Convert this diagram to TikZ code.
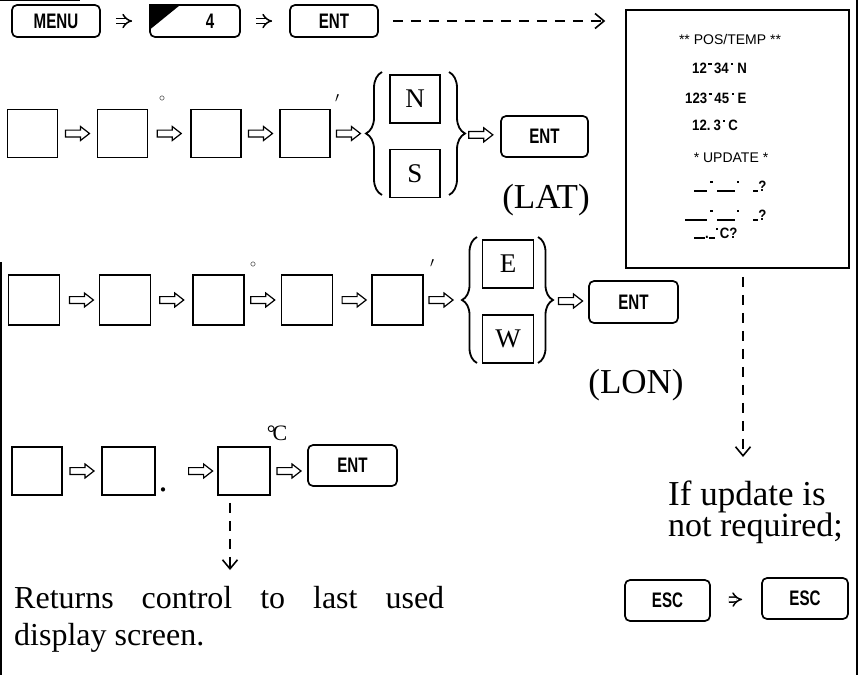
\documentclass[tikz,border=0pt]{standalone}
\usepackage{fontspec}
\setmainfont{Liberation Serif}
\newfontfamily\keyfont[FakeStretch=0.72]{Liberation Sans}
\newfontfamily\lcdfont[FakeStretch=0.88]{Liberation Sans}
\newfontfamily\dispfont{Liberation Sans}
\usetikzlibrary{arrows.meta,calc,decorations.pathreplacing}
\newcommand\dgm{\raisebox{8pt}{\rule{3.2pt}{1.8pt}}}
\newcommand\mnm{\raisebox{8.5pt}{\rule{2pt}{2pt}}}
\newcommand\ubar[1]{\rule[-0.5pt]{#1}{1.5pt}}
\begin{document}
\begin{tikzpicture}[x=1pt,y=-1pt,
 box/.style={draw, line width=1.7pt, inner sep=0pt, minimum width=50pt, minimum height=48pt},
 lbox/.style={box, font=\fontsize{27}{27}\selectfont},
 key/.style={draw, line width=1.7pt, rounded corners=5pt, inner sep=0pt, minimum width=88pt, minimum height=32pt, font=\keyfont\bfseries\fontsize{21}{21}\selectfont},
 harr/.pic={\draw[line width=1.2pt, fill=white] (-12,-3.4) -- (3,-3.4) -- (3,-7) -- (12,0) -- (3,7) -- (3,3.4) -- (-12,3.4) -- cycle;},
 impl/.style={double, double distance=3.4pt, line width=1.5pt, -{Implies}},
 dasharr/.style={line width=1.6pt, dash pattern=on 10pt off 8pt, -{Straight Barb[length=9pt,width=15pt,line width=1.6pt]}},
 brc/.style={decorate, decoration={brace, amplitude=#1}, line width=1.8pt},
 lbl/.style={font=\fontsize{35}{35}\selectfont, inner sep=0pt},
 disp/.style={font=\lcdfont\bfseries\fontsize{15}{15}\selectfont, anchor=base west, inner sep=0pt},
 smark/.style={inner sep=0pt}
]
\useasboundingbox (0,0) rectangle (859,675);
% page borders
\draw[line width=2pt] (856.5,0) -- (856.5,675);
\draw[line width=1.5pt] (1,262) -- (1,675);
\draw[line width=1.2pt] (0,0.6) -- (80,0.6);

% top row
\node[key] (menu) at (56,21) {MENU};
\node[key, minimum width=90pt] (k4) at (195,21) {\hspace*{30pt}4};
\fill (k4.north west) -- ++(32,0) -- ++(-32,26) -- cycle;
\node[key] (ent0) at (334,21) {ENT};
\draw[impl, shorten <=15pt, shorten >=17pt] (menu) -- (k4);
\draw[impl, shorten <=15pt, shorten >=17pt] (k4) -- (ent0);

% display
\node[draw, line width=1.5pt, minimum width=223pt, minimum height=258pt, inner sep=0pt] (disp) at (737.5,139) {};
\draw[dasharr, shorten <=14pt, shorten >=20pt] (ent0.east) -- (ent0.east -| disp.west);
\node[font=\dispfont\fontsize{14}{14}\selectfont, anchor=base, inner sep=0pt] (t0) at (730,44) {** POS/TEMP **};
\node[disp] (t1) at (692,73) {12\hspace{1.5pt}\dgm\hspace{2.5pt}34\hspace{2.5pt}\mnm\hspace{4pt}N};
\node[disp] (t2) at (685,103) {123\hspace{1.5pt}\dgm\hspace{2.5pt}45\hspace{2.5pt}\mnm\hspace{4pt}E};
\node[disp] (t3) at (692,130) {12.\hspace{3pt}3\hspace{2.5pt}\mnm\hspace{3pt}C};
\node[font=\dispfont\fontsize{14}{14}\selectfont, anchor=base, inner sep=0pt] (t4) at (731,162) {* UPDATE *};
\node[disp] (u1) at (694,191) {\ubar{13pt}\hspace{3pt}\dgm\hspace{4pt}\ubar{18pt}\hspace{2pt}\mnm\hspace{14pt}\ubar{5pt}?};
\node[disp] (u2) at (685,220) {\ubar{22pt}\hspace{3pt}\dgm\hspace{4pt}\ubar{18pt}\hspace{2pt}\mnm\hspace{14pt}\ubar{5pt}?};
\node[disp] (u3) at (694,238) {\ubar{11pt}.\ubar{6pt}\hspace{1pt}\mnm\hspace{2pt}C?};
\coordinate (d1) at (743,457);
\draw[dasharr, shorten <=8pt] (disp.south -| d1) -- (d1);

% LAT row
\node[box] (a1) at (32.5,133.5) {};
\node[box] (a2) at (122.5,133.5) {};
\node[box] (a3) at (216,133.5) {};
\node[box] (a4) at (305,133.5) {};
\node[smark, font=\fontsize{12}{12}\selectfont] (dga) at (162,99) {$\circ$};
\node[smark, font=\fontsize{14}{14}\selectfont] (pra) at (337,98) {$\prime$};
\node[lbox] (nN) at (415,99) {N};
\node[lbox] (nS) at (415,173.5) {S};
\draw[brc=16pt] (382,195) -- (382,72);
\draw[brc=16pt] (449,72) -- (449,195);
\coordinate (latL) at (366,133.5);
\coordinate (latR) at (465,133.5);
\node[key, minimum width=87pt, minimum height=41pt] (entA) at (544.5,136.5) {ENT};
\pic at ($(a1.east)!0.5!(a2.west)$) {harr};
\pic at ($(a2.east)!0.5!(a3.west)$) {harr};
\pic at ($(a3.east)!0.5!(a4.west)$) {harr};
\pic at ($(a4.east)!0.5!(latL)$) {harr};
\pic at ($(latR)!0.45!(entA.west)$) {harr};
\node[lbl, anchor=base] (lat) at (546,208) {(LAT)};

% LON row
\node[box, minimum width=51pt, minimum height=50pt] (b1) at (34,300) {};
\node[box, minimum width=51pt, minimum height=50pt] (b2) at (125,300) {};
\node[box, minimum width=51pt, minimum height=50pt] (b3) at (218.5,300) {};
\node[box, minimum width=51pt, minimum height=50pt] (b4) at (307,300) {};
\node[box, minimum width=51pt, minimum height=50pt] (b5) at (397.5,300) {};
\node[smark, font=\fontsize{12}{12}\selectfont] (dgb) at (253,265) {$\circ$};
\node[smark, font=\fontsize{14}{14}\selectfont] (prb) at (432,263) {$\prime$};
\node[lbox, minimum width=51pt, minimum height=48pt] (nE) at (508,264) {E};
\node[lbox, minimum width=51pt, minimum height=48pt] (nW) at (508,339) {W};
\draw[brc=15pt] (477,363) -- (477,237);
\draw[brc=15pt] (538,237) -- (538,363);
\coordinate (lonL) at (462,300);
\coordinate (lonR) at (553,300);
\node[key, minimum width=89pt, minimum height=42pt] (entB) at (633.5,302) {ENT};
\pic at ($(b1.east)!0.55!(b2.west)$) {harr};
\pic at ($(b2.east)!0.5!(b3.west)$) {harr};
\pic at ($(b3.east)!0.5!(b4.west)$) {harr};
\pic at ($(b4.east)!0.55!(b5.west)$) {harr};
\pic at ($(b5.east)!0.45!(lonL)$) {harr};
\pic at ($(lonR)!0.5!(entB.west)$) {harr};
\node[lbl, anchor=base] (lon) at (636,393) {(LON)};

% temperature row
\node[box] (c1) at (37,471) {};
\node[box, minimum width=53pt] (c2) at (128.5,471) {};
\node[smark, font=\fontsize{36}{36}\selectfont, anchor=base] (cdot) at (163,491) {.};
\node[box, minimum width=52pt] (c3) at (244,471) {};
\node[smark, font=\fontsize{22}{22}\selectfont] (cdeg) at (277,433) {°\kern-3pt C};
\node[key, minimum width=89pt, minimum height=41pt] (entC) at (352.5,465.5) {ENT};
\pic at ($(c1.east)!0.5!(c2.west)$) {harr};
\pic at ($(c2.east)!0.73!(c3.west)$) {harr};
\pic at ($(c3.east)!0.5!(entC.west |- c3.east)$) {harr};
\coordinate (e1) at (230,570);
\draw[dasharr, shorten <=7pt] (c3.south -| e1) -- (e1);

\node[font=\fontsize{32}{32}\selectfont, anchor=base west, inner sep=0pt] (ret1) at (14,608) {\makebox[430pt][s]{Returns control to last used}};
\node[font=\fontsize{32}{32}\selectfont, anchor=base west, inner sep=0pt] (ret2) at (14,645) {display screen.};

% right bottom
\node[font=\fontsize{35}{35}\selectfont, anchor=base west, inner sep=0pt] (if1) at (668,505) {If\ update\ is};
\node[font=\fontsize{34}{34}\selectfont, anchor=base west, inner sep=0pt] (if2) at (668,536) {not required;};
\node[key, minimum width=85pt, minimum height=41pt] (esc1) at (667.5,600.5) {ESC};
\node[key, minimum width=86pt, minimum height=41pt] (esc2) at (805,598.5) {ESC};
\draw[impl, shorten <=18pt, shorten >=19pt] (esc1) -- (esc2);
\end{tikzpicture}
\end{document}
